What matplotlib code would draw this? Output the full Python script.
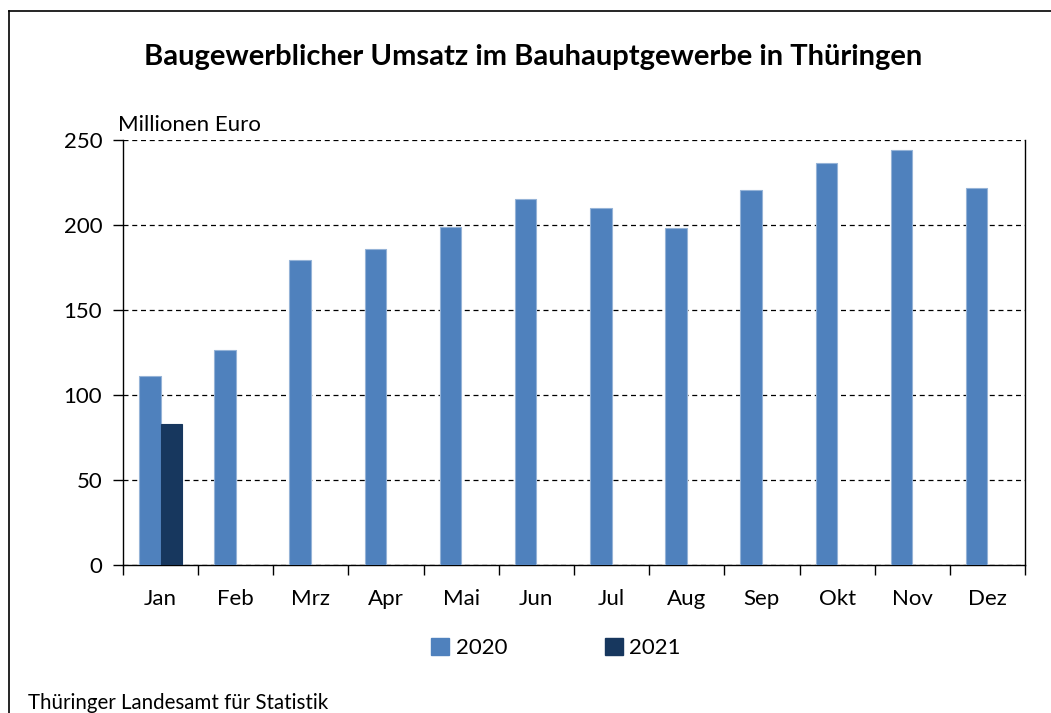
import matplotlib
matplotlib.use("Agg")
import matplotlib.pyplot as plt
import numpy as np
from matplotlib.lines import Line2D
from matplotlib.patches import Patch

plt.rcParams["font.family"] = ["Lato", "DejaVu Sans"]

months = ["Jan", "Feb", "Mrz", "Apr", "Mai", "Jun", "Jul", "Aug", "Sep", "Okt", "Nov", "Dez"]
umsatz_2020 = [111.2, 126.5, 179.4, 186.0, 198.8, 215.3, 210.0, 198.2, 220.6, 236.5, 244.1, 221.8]
umsatz_2021 = [83.0]
y_ticks = [0, 50, 100, 150, 200, 250]

color_2020 = "#4F81BD"
color_2021 = "#17375E"

fig = plt.figure(figsize=(10.51, 7.13), dpi=100)
ax = fig.add_axes([123 / 1051, 1 - 565 / 713, (1025 - 123) / 1051, (565 - 140) / 713])

x = np.arange(len(months))
width = 0.286
ax.bar(x - width / 2, umsatz_2020, width, color=color_2020, edgecolor="#95B3D7",
       linewidth=0.8, zorder=3, label="2020")
ax.bar(x[:len(umsatz_2021)] + width / 2, umsatz_2021, width, color=color_2021,
       edgecolor=color_2021, linewidth=0.8, zorder=3, label="2021")

ax.set_xlim(-0.5, len(months) - 0.5)
ax.set_ylim(0, 250)
ax.set_yticks(y_ticks)
ax.set_xticks(x)
ax.set_xticklabels(months)
ax.set_xticks(np.arange(-0.5, len(months)), minor=True)
ax.tick_params(axis="x", which="major", length=0, pad=17, labelsize=16)
ax.tick_params(axis="x", which="minor", length=7, width=1, direction="out", color="black")
ax.tick_params(axis="y", length=7, width=1, direction="out", pad=8, labelsize=16)

ax.yaxis.grid(True, linestyle=(0, (4, 3)), color="black", linewidth=0.9, zorder=0)
ax.set_axisbelow(True)
ax.spines["top"].set_visible(False)
for side in ("left", "bottom", "right"):
    ax.spines[side].set_linewidth(1.0)
    ax.spines[side].set_color("black")

ax.text(-0.005, 1.012, "Millionen Euro", transform=ax.transAxes, fontsize=16,
        ha="left", va="bottom")

fig.text(533 / 1051, 1 - 57 / 713, "Baugewerblicher Umsatz im Bauhauptgewerbe in Thüringen",
         ha="center", va="center", fontsize=21, fontweight="bold")

handles = [Patch(facecolor=color_2020, edgecolor=color_2020),
           Patch(facecolor=color_2021, edgecolor=color_2021)]
fig.legend(handles, ["2020", "2021"], loc="center", bbox_to_anchor=(556 / 1051, 1 - 648 / 713),
           ncol=2, frameon=False, fontsize=16, handlelength=0.8, handleheight=0.8,
           handletextpad=0.3, columnspacing=4.4)

fig.text(28 / 1051, 1 - 703 / 713, "Thüringer Landesamt für Statistik", ha="left",
         va="center", fontsize=14.8)

# outer frame (left and top edges visible)
fig.add_artist(Line2D([8.5 / 1051, 8.5 / 1051], [0, 1 - 11 / 713], transform=fig.transFigure,
                      color="black", linewidth=1.2))
fig.add_artist(Line2D([8.5 / 1051, 1], [1 - 11 / 713, 1 - 11 / 713], transform=fig.transFigure,
                      color="black", linewidth=1.2))

fig.savefig("out.png", dpi=100)
